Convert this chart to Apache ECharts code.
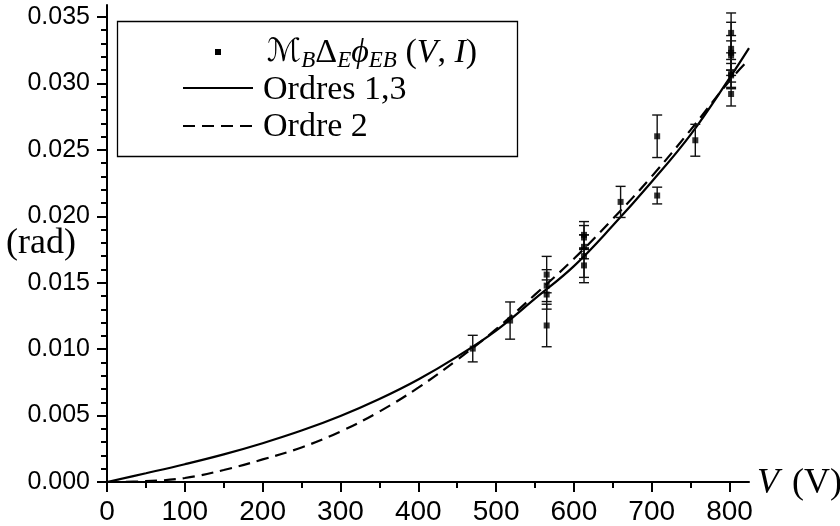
<!DOCTYPE html>
<html><head><meta charset="utf-8">
<script src="https://cdn.jsdelivr.net/npm/echarts@6/dist/echarts.min.js"></script>
<style>html,body{margin:0;padding:0;background:#fff}#c{width:840px;height:526px}</style>
</head><body><div id="c"></div>
<script>
// ---- data ----
const pointV   = [470, 518, 565, 565, 565, 565, 613, 613, 613, 613, 613, 660, 707, 707, 756, 802, 802, 802, 802, 802, 802, 802];
const pointY   = [0.01004, 0.01215, 0.01561, 0.01478, 0.01411, 0.01178, 0.0186, 0.0184, 0.0177, 0.0170, 0.0163, 0.02108, 0.02602, 0.02156, 0.02572, 0.0338, 0.0326, 0.0323, 0.0321, 0.0307, 0.0306, 0.0292];
const pointErr = [0.0010, 0.0014, 0.00137, 0.0012, 0.0011, 0.0016, 0.0010, 0.0009, 0.0009, 0.0016, 0.0013, 0.00117, 0.0016, 0.00063, 0.0012, 0.0015, 0.0020, 0.0013, 0.0011, 0.0011, 0.0009, 0.0009];
const curveV   = [0, 50, 100, 150, 200, 250, 300, 350, 400, 450, 500, 550, 600, 650, 700, 750, 800, 825];
const solidY   = [0, 0.00066, 0.00134, 0.00208, 0.00292, 0.00387, 0.00497, 0.00625, 0.00772, 0.00944, 0.01140, 0.01380, 0.01625, 0.01930, 0.02260, 0.02615, 0.03040, 0.03265];
const dashedY  = [0, 0.00006, 0.0003, 0.0009, 0.0017, 0.0026, 0.0038, 0.0053, 0.0071, 0.0092, 0.0115, 0.0141, 0.0168, 0.0198, 0.0230, 0.0265, 0.0302, 0.0318];
const xTicks      = [0, 100, 200, 300, 400, 500, 600, 700, 800];
const xMinorTicks = [50, 150, 250, 350, 450, 550, 650, 750];
const yTicks      = [0, 0.005, 0.010, 0.015, 0.020, 0.025, 0.030, 0.035];
const yMinorTicks = [0.001,0.002,0.003,0.004,0.006,0.007,0.008,0.009,0.011,0.012,0.013,0.014,0.016,0.017,0.018,0.019,0.021,0.022,0.023,0.024,0.026,0.027,0.028,0.029,0.031,0.032,0.033,0.034];
const seriesNames = ['Mesures', 'Ordres 1,3', 'Ordre 2'];
const xName = 'V';
const xUnit = '(V)';
const yName = '(rad)';

// ---- build ----
const scatterData = pointV.map((v, i) => [v, pointY[i]]);
const errData = pointV.map((v, i) => [v, pointY[i] - pointErr[i], pointY[i] + pointErr[i]]);
const solidData = curveV.map((v, i) => [v, solidY[i]]);
const dashedData = curveV.map((v, i) => [v, dashedY[i]]);

const SERIF = "'Liberation Serif','Times New Roman',serif";
const X_MAX = 825, Y_MAX = 0.0359;

const chart = echarts.init(document.getElementById('c'), null, {renderer: 'canvas'});
chart.setOption({
  animation: false,
  backgroundColor: '#fff',
  grid: {left: 107, right: 91, top: 5, bottom: 44, outerBoundsMode: 'none', containLabel: false},
  xAxis: [{
    type: 'value', min: 0, max: X_MAX, position: 'bottom', offset: 0,
    name: '{i|' + xName + '}{n|' + xUnit + '}', nameLocation: 'end', nameGap: 8, nameMoveOverlap: false,
    nameTextStyle: {padding: [4, 0, 0, 0], rich: {
      i: {fontFamily: SERIF, fontStyle: 'italic', fontSize: 36, color: '#000'},
      n: {fontFamily: SERIF, fontSize: 36, color: '#000', padding: [0, 0, 0, 13]}
    }},
    axisLine: {show: true, onZero: false, lineStyle: {color: '#000', width: 2}},
    axisTick: {show: true, inside: false, length: 10, customValues: xTicks, lineStyle: {color: '#000', width: 2}},
    axisLabel: {show: true, customValues: xTicks, margin: 16, color: '#000', fontSize: 28,
      fontFamily: "'Liberation Sans Narrow','Arial Narrow','Liberation Sans',sans-serif"},
    splitLine: {show: false}, minorTick: {show: false}
  }, {
    type: 'value', min: 0, max: X_MAX, position: 'bottom', offset: 0,
    axisLine: {show: false},
    axisTick: {show: true, length: 6, customValues: xMinorTicks, lineStyle: {color: '#000', width: 2}},
    axisLabel: {show: false}, splitLine: {show: false}
  }],
  yAxis: [{
    type: 'value', min: 0, max: Y_MAX, position: 'left', offset: 0,
    name: yName, nameLocation: 'middle', nameRotate: 0, nameGap: 31, nameMoveOverlap: false,
    nameTextStyle: {fontFamily: SERIF, fontSize: 36, color: '#000', align: 'right', verticalAlign: 'middle', padding: [16, 0, 0, 0]},
    axisLine: {show: true, onZero: false, lineStyle: {color: '#000', width: 2}},
    axisTick: {show: true, inside: false, length: 10, customValues: yTicks, lineStyle: {color: '#000', width: 2}},
    axisLabel: {show: true, customValues: yTicks, margin: 17, color: '#000', fontSize: 25,
      fontFamily: "'Liberation Sans',Arial,sans-serif", formatter: v => v.toFixed(3)},
    splitLine: {show: false}
  }, {
    type: 'value', min: 0, max: Y_MAX, position: 'left', offset: 0,
    axisLine: {show: false},
    axisTick: {show: true, length: 6, customValues: yMinorTicks, lineStyle: {color: '#000', width: 2}},
    axisLabel: {show: false}, splitLine: {show: false}
  }],
  series: [{
    name: seriesNames[1], type: 'line', data: solidData, xAxisIndex: 0, yAxisIndex: 0,
    showSymbol: false, symbol: 'none', smooth: 0.4, clip: true,
    lineStyle: {color: '#000', width: 2.2}, z: 3
  }, {
    name: seriesNames[2], type: 'line', data: dashedData, xAxisIndex: 0, yAxisIndex: 0,
    showSymbol: false, symbol: 'none', smooth: 0.4, clip: true,
    lineStyle: {color: '#000', width: 2.2, type: [12, 7]}, z: 3
  }, {
    name: seriesNames[0] + ' err', type: 'custom', data: errData, xAxisIndex: 0, yAxisIndex: 0,
    encode: {x: 0, y: [1, 2]}, z: 4,
    renderItem: function (params, api) {
      const x = api.value(0);
      const pLo = api.coord([x, api.value(1)]);
      const pHi = api.coord([x, api.value(2)]);
      const cap = 5;
      const st = {stroke: '#111', lineWidth: 1.4};
      return {type: 'group', children: [
        {type: 'line', shape: {x1: pLo[0], y1: pLo[1], x2: pHi[0], y2: pHi[1]}, style: st},
        {type: 'line', shape: {x1: pLo[0] - cap, y1: pLo[1], x2: pLo[0] + cap, y2: pLo[1]}, style: st},
        {type: 'line', shape: {x1: pHi[0] - cap, y1: pHi[1], x2: pHi[0] + cap, y2: pHi[1]}, style: st}
      ]};
    }
  }, {
    name: seriesNames[0], type: 'scatter', data: scatterData, xAxisIndex: 0, yAxisIndex: 0,
    symbol: 'rect', symbolSize: 6, itemStyle: {color: '#000'}, z: 5
  }],
  graphic: [
    {type: 'rect', z: 100, shape: {x: 117.5, y: 21.5, width: 400, height: 135},
      style: {fill: '#fff', stroke: '#000', lineWidth: 1.3}},
    {type: 'rect', z: 101, shape: {x: 215, y: 49, width: 6, height: 6}, style: {fill: '#000'}},
    {type: 'text', z: 101, x: 267, y: 53, style: {
      text: '{m|ℳ}{s|B}{n|Δ}{s|E}{p|ϕ}{s|EB}{n| (}{i|V}{n|, }{i|I}{n|)}',
      verticalAlign: 'middle', align: 'left',
      rich: {
        m: {fontFamily: "'DejaVu Sans',sans-serif", fontSize: 32, fill: '#000', color: '#000'},
        s: {fontFamily: SERIF, fontStyle: 'italic', fontSize: 23, fill: '#000', color: '#000', padding: [15, 0, 0, 0]},
        n: {fontFamily: SERIF, fontSize: 34, fill: '#000', color: '#000'},
        p: {fontFamily: SERIF, fontStyle: 'italic', fontSize: 34, fill: '#000', color: '#000'},
        i: {fontFamily: SERIF, fontStyle: 'italic', fontSize: 34, fill: '#000', color: '#000'}
      }
    }},
    {type: 'line', z: 101, shape: {x1: 183, y1: 88, x2: 253, y2: 88}, style: {stroke: '#000', lineWidth: 2.2}},
    {type: 'text', z: 101, x: 263, y: 90, style: {text: seriesNames[1], font: '34px ' + SERIF, fill: '#000', verticalAlign: 'middle', align: 'left'}},
    {type: 'line', z: 101, shape: {x1: 183, y1: 126, x2: 253, y2: 126}, style: {stroke: '#000', lineWidth: 2.2, lineDash: [12, 7]}},
    {type: 'text', z: 101, x: 263, y: 127, style: {text: seriesNames[2], font: '34px ' + SERIF, fill: '#000', verticalAlign: 'middle', align: 'left'}}
  ]
});
</script>
</body></html>
